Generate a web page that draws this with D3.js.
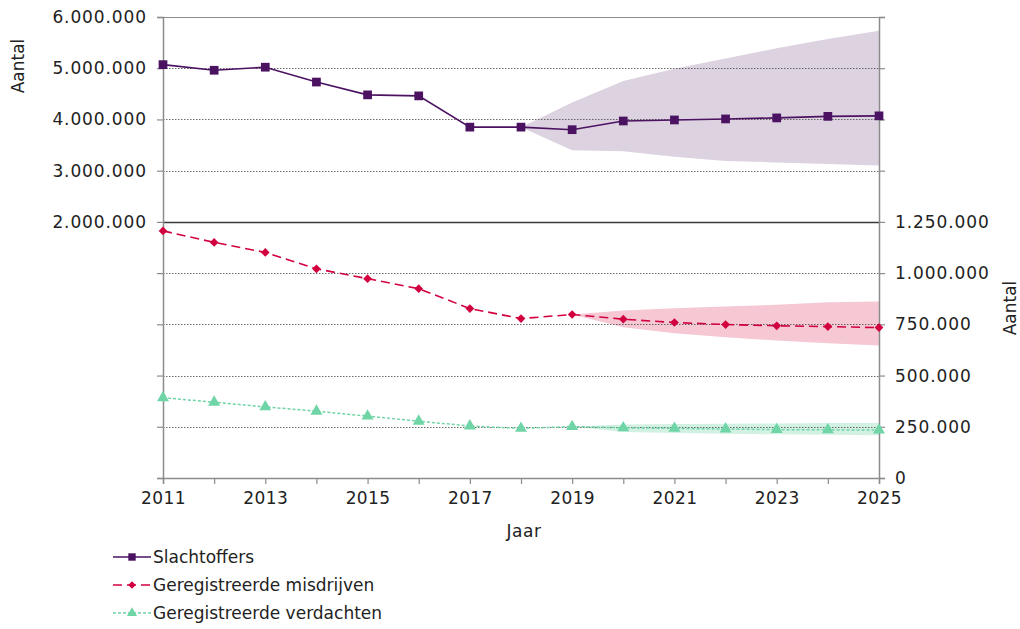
<!DOCTYPE html>
<html><head><meta charset="utf-8">
<script src="https://cdn.jsdelivr.net/npm/d3@7"></script>
<style>
body{margin:0;background:#fff;}
svg text{font-family:"DejaVu Sans",Verdana,sans-serif;fill:#222;}
</style></head>
<body><svg id="c" width="1020" height="629"></svg>
<script>
const years = [2011,2012,2013,2014,2015,2016,2017,2018,2019,2020,2021,2022,2023,2024,2025];
const slachtoffers = [5070000,4960000,5020000,4730000,4480000,4460000,3850000,3850000,3800000,3970000,3990000,4010000,4030000,4060000,4070000];
const misdrijven = [1206000,1150000,1101000,1021000,973000,924000,827000,778000,798000,775000,759000,749000,743000,739000,734000];
const verdachten = [392000,370000,347000,326000,302000,277000,254000,242000,251000,245000,242000,239000,236000,235000,234000];
// prediction bands
const bandSlYears = [2018,2019,2020,2021,2022,2023,2024,2025];
const bandSlLow  = [3850000,3400000,3380000,3270000,3190000,3160000,3130000,3100000];
const bandSlHigh = [3850000,4330000,4750000,4990000,5190000,5390000,5570000,5730000];
const bandMiYears = [2019,2020,2021,2022,2023,2024,2025];
const bandMiLow  = [798000,736000,707000,687000,671000,658000,647000];
const bandMiHigh = [798000,817000,828000,837000,845000,858000,862000];
const bandVeYears = [2019,2020,2021,2022,2023,2024,2025];
const bandVeLow  = [251000,225000,220000,216000,213000,211000,209000];
const bandVeHigh = [251000,261000,263000,265000,266000,268000,269000];
const leftTicks = [-3000000,-2000000,-1000000,0,1000000,2000000,3000000,4000000,5000000,6000000];
const leftLabeled = [2000000,3000000,4000000,5000000,6000000];
const rightTicks = [0,250000,500000,750000,1000000,1250000,1500000,1750000,2000000,2250000];
const rightLabeled = [0,250000,500000,750000,1000000,1250000];
const xLabelYears = [2011,2013,2015,2017,2019,2021,2023,2025];
const seriesNames = ["Slachtoffers","Geregistreerde misdrijven","Geregistreerde verdachten"];

const C = {sl:"#4b1261", slBand:"#dcd2e0", mi:"#d2003f", miBand:"#f5c8d4", ve:"#6fd4a6", veBand:"#d3f1e3", axis:"#8c8c8c"};
const nl = d3.formatLocale({decimal:",",thousands:".",grouping:[3],currency:["€",""]});
const fmt = nl.format(",d");

const svg = d3.select("#c");
const L = 163, R = 879, T = 17, B = 478;
const x = d3.scaleLinear().domain([2011,2025]).range([L,R]);
const yL = d3.scaleLinear().domain([-3000000,6000000]).range([B,T]);
const yR = d3.scaleLinear().domain([0,2250000]).range([B,T]);

function band(ys, lo, hi, scale, color){
  const a = d3.area().x((d,i)=>x(ys[i])).y0((d,i)=>scale(lo[i])).y1((d,i)=>scale(hi[i]));
  svg.append("path").attr("d", a(ys)).attr("fill", color);
}
band(bandSlYears, bandSlLow, bandSlHigh, yL, C.slBand);
band(bandMiYears, bandMiLow, bandMiHigh, yR, C.miBand);
band(bandVeYears, bandVeLow, bandVeHigh, yR, C.veBand);

// gridlines
const gridVals = leftTicks.filter(v => v > -3000000 && v < 6000000);
svg.append("g").selectAll("line").data(gridVals).join("line")
  .attr("x1", L).attr("x2", R)
  .attr("y1", d=>Math.round(yL(d))+0.5).attr("y2", d=>Math.round(yL(d))+0.5)
  .attr("stroke", d=> d===2000000 ? "#3a3a3a" : "#444")
  .attr("stroke-width", d=> d===2000000 ? 1.6 : 0.8)
  .attr("stroke-dasharray", d=> d===2000000 ? null : "1.5,1.5");

// frame top
svg.append("line").attr("x1",L).attr("x2",R).attr("y1",T+0.5).attr("y2",T+0.5).attr("stroke",C.axis).attr("stroke-width",1.2);

// axes
const axL = d3.axisLeft(yL).tickValues(leftTicks).tickSize(6).tickFormat(d => leftLabeled.includes(d) ? fmt(d) : "");
const gL = svg.append("g").attr("transform",`translate(${L},0)`).call(axL);
const axR = d3.axisRight(yR).tickValues(rightTicks).tickSize(6).tickFormat(d => rightLabeled.includes(d) ? fmt(d) : "");
const gR = svg.append("g").attr("transform",`translate(${R},0)`).call(axR);
const axB = d3.axisBottom(x).tickValues(years).tickSize(6).tickFormat(d => xLabelYears.includes(d) ? String(d) : "");
const gB = svg.append("g").attr("transform",`translate(0,${B})`).call(axB);
[gL,gR,gB].forEach(g=>{
  g.select(".domain").attr("stroke",C.axis).attr("stroke-width",1.5);
  g.selectAll(".tick line").attr("stroke",C.axis).attr("stroke-width",1.2);
  g.selectAll(".tick text").attr("font-size",17).attr("font-family","DejaVu Sans").attr("fill","#222").attr("letter-spacing","0.9px");
});
gL.selectAll(".tick text").attr("x",-16);
gR.selectAll(".tick text").attr("x",16);
gB.selectAll(".tick text").attr("y",14).attr("letter-spacing","0.4px");

// axis titles
svg.append("text").attr("transform","translate(24,66) rotate(-90)").attr("text-anchor","middle").attr("font-size",17).text("Aantal");
svg.append("text").attr("transform","translate(1016,308) rotate(-90)").attr("text-anchor","middle").attr("font-size",17).text("Aantal");
svg.append("text").attr("x",524).attr("y",537).attr("text-anchor","middle").attr("font-size",17).attr("letter-spacing","0.6px").text("Jaar");

// lines
const sym = {
  sq: d3.symbol().type(d3.symbolSquare).size(76),
  di: d3.symbol().type(d3.symbolSquare).size(38),
  tr: d3.symbol().type(d3.symbolTriangle).size(62)
};
function series(vals, scale, color, dash, width, symb, rot){
  const ln = d3.line().x((d,i)=>x(years[i])).y(d=>scale(d));
  svg.append("path").attr("d", ln(vals)).attr("fill","none").attr("stroke",color).attr("stroke-width",width).attr("stroke-dasharray",dash);
  svg.append("g").selectAll("path").data(vals).join("path")
    .attr("d", symb).attr("fill", color)
    .attr("transform",(d,i)=>`translate(${x(years[i])},${scale(d)}) rotate(${rot})`);
}
series(verdachten, yR, C.ve, "3,2", 1.5, sym.tr, 0);
series(misdrijven, yR, C.mi, "9,5", 1.6, sym.di, 45);
series(slachtoffers, yL, C.sl, null, 1.6, sym.sq, 0);

// legend
const leg = [
  {name:seriesNames[0], color:C.sl, dash:null, s:sym.sq, rot:0, y:557},
  {name:seriesNames[1], color:C.mi, dash:"9,5", s:sym.di, rot:45, y:585},
  {name:seriesNames[2], color:C.ve, dash:"3,2", s:sym.tr, rot:0, y:613}
];
const lg = svg.append("g");
leg.forEach(l=>{
  lg.append("line").attr("x1",113).attr("x2",151).attr("y1",l.y).attr("y2",l.y).attr("stroke",l.color).attr("stroke-width",1.5).attr("stroke-dasharray",l.dash);
  lg.append("path").attr("d",l.s).attr("fill",l.color).attr("transform",`translate(132,${l.y}) rotate(${l.rot}) scale(0.85)`);
  lg.append("text").attr("x",153).attr("y",l.y+6).attr("font-size",17).text(l.name);
});
</script></body></html>
